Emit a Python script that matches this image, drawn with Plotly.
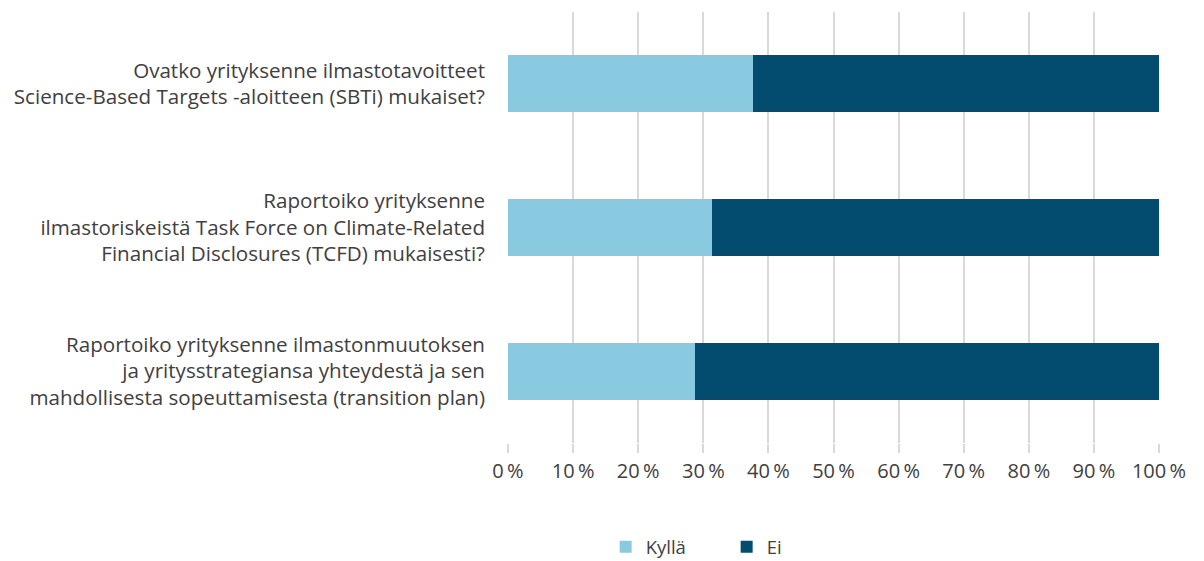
import plotly.graph_objects as go

questions = [
    "Ovatko yrityksenne ilmastotavoitteet<br>Science-Based Targets -aloitteen (SBTi) mukaiset?",
    "Raportoiko yrityksenne<br>ilmastoriskeistä Task Force on Climate-Related<br>Financial Disclosures (TCFD) mukaisesti?",
    "Raportoiko yrityksenne ilmastonmuutoksen<br>ja yritysstrategiansa yhteydestä ja sen<br>mahdollisesta sopeuttamisesta (transition plan)",
]
kylla = [37.6, 31.3, 28.7]
ei = [62.4, 68.7, 71.3]
tick_vals = [0, 10, 20, 30, 40, 50, 60, 70, 80, 90, 100]
tick_text = [f"{v}\u2009%" for v in tick_vals]

fig = go.Figure()
fig.add_trace(go.Bar(y=questions, x=kylla, orientation="h", name="Kyllä",
                     marker=dict(color="#8ACAE0", line=dict(width=0))))
fig.add_trace(go.Bar(y=questions, x=ei, orientation="h", name="Ei",
                     marker=dict(color="#034C6F", line=dict(width=0))))

# page body margin shifts the figure by 8 px; extra height below is cropped by the window
fig.update_layout(
    barmode="stack",
    bargap=0.604,
    width=1196, height=600,
    margin=dict(l=500, r=45, t=3.5, b=164.5),
    plot_bgcolor="white", paper_bgcolor="white",
    font=dict(family="Open Sans", size=20.6, color="#404040"),
    legend=dict(orientation="h", x=0.15, xanchor="left", y=-0.198, yanchor="top",
                font=dict(size=18.5), itemwidth=30, entrywidth=76,
                traceorder="normal"),
)
fig.update_xaxes(range=[0, 100], tickvals=tick_vals, ticktext=tick_text,
                 showgrid=True, gridcolor="#D9D9D9", gridwidth=1.5,
                 ticks="outside", ticklen=9, tickcolor="#D9D9D9", tickwidth=1.5,
                 zeroline=False, showline=False, ticklabelstandoff=1,
                 automargin=False, tickfont=dict(size=20))
fig.update_yaxes(autorange="reversed", showgrid=False, showline=False,
                 ticklabelstandoff=22, automargin=False)

fig.write_html("out.html", config={"displayModeBar": False})
